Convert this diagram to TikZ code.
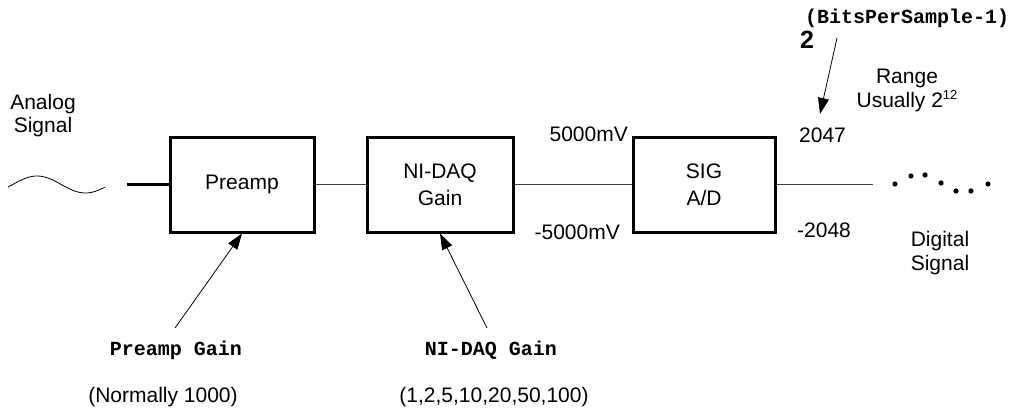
\documentclass[tikz,border=0pt]{standalone}
\usepackage{fontspec}
\setmainfont{Liberation Sans}
\newfontfamily\courfont{Liberation Mono}
\usetikzlibrary{arrows.meta}
\begin{document}
\begin{tikzpicture}[x=1pt,y=-1pt,
  every node/.style={inner sep=0pt, font=\fontsize{21}{25}\selectfont},
  box/.style={draw, line width=3pt, minimum height=95pt, align=center},
  thin/.style={line width=0.9pt, draw=black!75},
  thickline/.style={line width=3pt},
  gainarrow/.style={line width=0.8pt, -{Triangle[length=16pt,width=11pt]}},
  mono/.style={font=\courfont\bfseries\fontsize{20}{24}\selectfont},
  lbl/.style={align=center, font=\fontsize{21}{25}\selectfont}]
\useasboundingbox (0,0) rectangle (1024,412);

% analog signal
\node[lbl] (analog) at (43,116) {Analog\\[-2pt]Signal};
\draw[line width=0.8pt] plot[domain=8:105, smooth, samples=40] (\x, {184.5 - 8.5*sin((\x-8)/97*360 - 17.6)});

% boxes
\node[box, minimum width=144pt] (pre) at (242,184.5) {Preamp};
\node[box, minimum width=146pt] (ni) at (440,184.5) {NI-DAQ\\[2pt]Gain};
\node[box, minimum width=142pt] (sig) at (704,184.5) {SIG\\[2pt]A/D};

\coordinate (in) at (127,184.5);
\coordinate (out) at (873,184.5);
\draw[thickline] (in) -- (pre.west);
\draw[thin] (pre.east) -- (ni.west);
\draw[thin] (ni.east) -- (sig.west);
\draw[thin] (sig.east) -- (out);

% voltage labels
\node[anchor=east] (pv) at (628,134) {5000mV};
\node[anchor=east] (nv) at (620,232) {-5000mV};
\node[anchor=west] (p2047) at (799,135) {2047};
\node[anchor=west] (n2048) at (797,230) {-2048};

% range
\node[lbl] (range) at (907,90) {Range\\[-1pt]Usually 2\raisebox{8pt}{\fontsize{13}{13}\selectfont 12}};
\node[lbl] (digital) at (940,253) {Digital\\[-1pt]Signal};

% digital dots
\foreach \i/\px/\py in {1/895/184, 2/911/176, 3/925/175, 4/941/183, 5/956/191, 6/971/191, 7/988/184}
  \fill (\px,\py) circle (2.6pt);

% bits per sample
\node[anchor=west, font=\bfseries\fontsize{25}{28}\selectfont] (two) at (800,40) {2};
\node[anchor=west, mono] (bps) at (805,18) {(BitsPerSample-1)};
\coordinate (bpstail) at (837,38);
\coordinate (bpshead) at (820,114);
\draw[gainarrow] (bpstail) -- (bpshead);

% gain labels
\node[mono] (pg) at (176,350) {Preamp Gain};
\node[mono] (ng) at (491,350) {NI-DAQ Gain};
\node (pgv) at (163,397) {(Normally 1000)};
\node (ngv) at (494,397) {(1,2,5,10,20,50,100)};
\coordinate (pgtail) at (175,328);
\coordinate (ngtail) at (487,328);
\draw[gainarrow] (pgtail) -- (pre.south);
\draw[gainarrow] (ngtail) -- (ni.south);
\end{tikzpicture}
\end{document}
